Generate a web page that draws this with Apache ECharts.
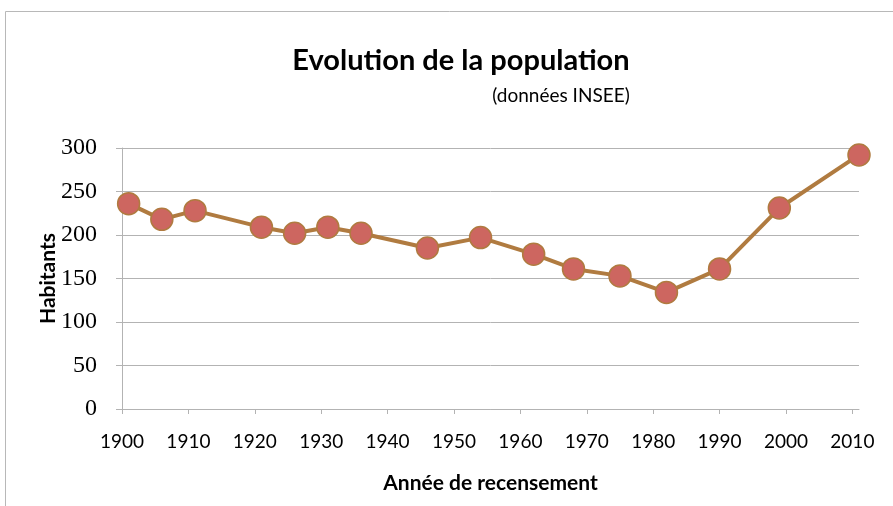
<!DOCTYPE html>
<html>
<head>
<meta charset="utf-8">
<script src="https://cdn.jsdelivr.net/npm/echarts@6/dist/echarts.min.js"></script>
<style>
  html, body { margin: 0; padding: 0; background: #fff; }
  #chart { width: 893px; height: 506px; }
</style>
</head>
<body>
<div id="chart"></div>
<script>
const years = [1901, 1906, 1911, 1921, 1926, 1931, 1936, 1946, 1954, 1962, 1968, 1975, 1982, 1990, 1999, 2011];
const habitants = [236, 218, 228, 209, 202, 209, 202, 185, 197, 178, 161, 153, 134, 161, 231, 292];

const chart = echarts.init(document.getElementById('chart'));

chart.setOption({
  animation: false,
  graphic: [{
    type: 'rect',
    shape: { x: 5.5, y: 11.5, width: 950, height: 600 },
    style: { fill: 'none', stroke: '#b8b8b8', lineWidth: 1 }
  }],
  title: [{
    text: 'Evolution de la population',
    left: 456, top: 41, textAlign: 'center',
    textStyle: { fontFamily: 'Lato', fontWeight: 'bold', fontSize: 29, color: '#000' }
  }, {
    text: '(données INSEE)',
    left: 556, top: 81, textAlign: 'center',
    textStyle: { fontFamily: 'Lato', fontWeight: 'normal', fontSize: 19, color: '#000' }
  }],
  grid: { left: 122, right: 34, top: 148, bottom: 97 },
  xAxis: {
    type: 'value', min: 1900, max: 2011, interval: 10,
    name: 'Année de recensement', nameLocation: 'middle', nameGap: 64,
    nameTextStyle: { fontFamily: 'Lato', fontWeight: 'bold', fontSize: 21, color: '#000' },
    axisLine: { show: true, lineStyle: { color: '#b3b3b3', width: 1 } },
    axisTick: { show: true, length: 5, lineStyle: { color: '#b3b3b3' } },
    splitLine: { show: false },
    axisLabel: {
      showMaxLabel: false, margin: 23,
      formatter: v => String(v),
      fontFamily: 'Lato', fontSize: 19, color: '#000'
    }
  },
  yAxis: {
    type: 'value', min: 0, max: 300, interval: 50,
    name: 'Habitants', nameLocation: 'middle', nameGap: 63, nameRotate: 90,
    nameMoveOverlap: false,
    nameTextStyle: { fontFamily: 'Lato', fontWeight: 'bold', fontSize: 21, color: '#000' },
    axisLine: { show: true, lineStyle: { color: '#b3b3b3', width: 1 } },
    axisTick: { show: true, length: 6, lineStyle: { color: '#b3b3b3' } },
    splitLine: { show: true, lineStyle: { color: '#b3b3b3', width: 1 } },
    axisLabel: { margin: 25, formatter: v => String(v), fontFamily: 'Liberation Serif', fontSize: 24, color: '#000' }
  },
  series: [{
    type: 'line',
    data: years.map((y, i) => [y, habitants[i]]),
    symbol: 'circle', symbolSize: 22,
    lineStyle: { color: '#b07b40', width: 4 },
    itemStyle: { color: '#cd6660', borderColor: '#b07b40', borderWidth: 1.5 }
  }]
});
</script>
</body>
</html>
